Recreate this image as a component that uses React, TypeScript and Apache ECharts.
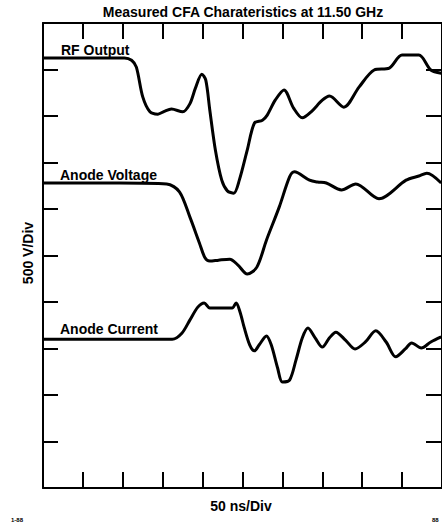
import React, { useEffect, useRef } from "react";
import * as echarts from "echarts";

// time in ns (50 ns/div), amplitude in divisions (500 V/div)
const rfTime = [0, 59, 102, 111, 117, 125, 134, 144, 152, 161, 175, 184, 191, 199, 204, 209, 216, 224, 231, 239, 246, 256, 265, 275, 281, 291, 302, 314, 325, 336, 350, 359, 377, 396, 415, 434, 450, 471, 486, 499];
const rfValue = [9.25, 9.25, 9.25, 9.2, 9.05, 8.41, 8.09, 8.04, 8.1, 8.15, 8.09, 8.26, 8.6, 8.9, 8.77, 8.13, 7.27, 6.62, 6.39, 6.34, 6.62, 7.27, 7.85, 7.91, 8.02, 8.34, 8.56, 8.17, 7.96, 8.09, 8.34, 8.43, 8.19, 8.62, 8.99, 9.03, 9.31, 9.31, 8.99, 8.92];

const voltTime = [0, 96, 155, 171, 184, 196, 203, 209, 220, 234, 244, 256, 268, 280, 296, 309, 315, 334, 344, 355, 374, 392, 421, 455, 471, 481, 499];
const voltValue = [6.56, 6.56, 6.54, 6.37, 5.83, 5.27, 4.95, 4.88, 4.9, 4.92, 4.8, 4.6, 4.75, 5.33, 6.04, 6.69, 6.8, 6.62, 6.58, 6.56, 6.41, 6.54, 6.22, 6.62, 6.71, 6.77, 6.56];

const currTime = [0, 162, 174, 184, 194, 202, 209, 221, 237, 242, 247, 252, 259, 265, 271, 280, 286, 294, 300, 309, 317, 325, 332, 341, 350, 359, 367, 379, 391, 404, 417, 430, 442, 454, 462, 474, 486, 499];
const currValue = [3.2, 3.2, 3.33, 3.61, 3.89, 3.98, 3.87, 3.87, 3.87, 3.98, 3.78, 3.46, 3.08, 2.95, 3.08, 3.27, 3.08, 2.58, 2.28, 2.32, 2.75, 3.23, 3.44, 3.23, 3.03, 3.23, 3.35, 3.18, 2.99, 3.14, 3.38, 3.14, 2.82, 2.99, 3.12, 3.01, 3.14, 3.25];

const seriesNames = ["RF Output", "Anode Voltage", "Anode Current"];
const titleText = "Measured CFA Charateristics at 11.50 GHz";
const xName = "50 ns/Div";
const yName = "500 V/Div";

const FONT = "'Liberation Sans', Arial, sans-serif";

const pairs = (t: number[], v: number[]) => t.map((x, i) => [x, v[i]]);

export default function App() {
  const ref = useRef<HTMLDivElement>(null);
  useEffect(() => {
    document.body.style.margin = "0";
    const chart = echarts.init(ref.current!, null, { renderer: "svg" });
    const axisLine = { show: true, onZero: false, lineStyle: { color: "#000", width: 2 } };
    const tick = (length: number) => ({ show: true, inside: true, length, lineStyle: { color: "#000", width: 2 } });
    const xCommon = {
      type: "value" as const,
      min: 0,
      max: 500,
      interval: 50,
      axisLine,
      axisLabel: { show: false },
      splitLine: { show: false },
    };
    const yCommon = {
      type: "value" as const,
      min: 0,
      max: 10,
      interval: 1,
      axisLine,
      axisLabel: { show: false },
      splitLine: { show: false },
    };
    const lineSeries = (name: string, t: number[], v: number[]) => ({
      name,
      type: "line" as const,
      data: pairs(t, v),
      showSymbol: false,
      smooth: 0.3,
      lineStyle: { color: "#000", width: 3 },
      silent: true,
    });
    const txt = (text: string, x: number, y: number, extra: any = {}) => ({
      type: "text",
      x,
      y,
      style: {
        text,
        fill: "#000",
        font: `bold 14px ${FONT}`,
        textAlign: "left",
        textVerticalAlign: "middle",
        ...extra,
      },
    });
    chart.setOption({
      animation: false,
      backgroundColor: "#fff",
      grid: { left: 43, top: 23, width: 403, height: 465 },
      xAxis: [
        { ...xCommon, position: "bottom", axisTick: tick(16) },
        { ...xCommon, position: "top", axisTick: tick(16) },
      ],
      yAxis: [
        { ...yCommon, position: "left", axisTick: tick(15) },
        { ...yCommon, position: "right", axisTick: tick(16) },
      ],
      series: [
        lineSeries(seriesNames[0], rfTime, rfValue),
        lineSeries(seriesNames[1], voltTime, voltValue),
        lineSeries(seriesNames[2], currTime, currValue),
      ],
      graphic: [
        txt(titleText, 243, 12, { textAlign: "center" }),
        txt(seriesNames[0], 61, 50),
        txt(seriesNames[1], 60, 175),
        txt(seriesNames[2], 60, 329),
        txt(xName, 241, 506, { textAlign: "center" }),
        {
          type: "text",
          x: 28,
          y: 253,
          rotation: Math.PI / 2,
          style: {
            text: yName,
            fill: "#000",
            font: `bold 14px ${FONT}`,
            textAlign: "center",
            textVerticalAlign: "middle",
          },
        },
        txt("1-88", 11, 520, { font: `bold 6px ${FONT}` }),
        txt("88", 432, 520, { font: `bold 6px ${FONT}` }),
      ],
    });
    return () => chart.dispose();
  }, []);
  return <div ref={ref} style={{ width: 442, height: 527 }} />;
}
